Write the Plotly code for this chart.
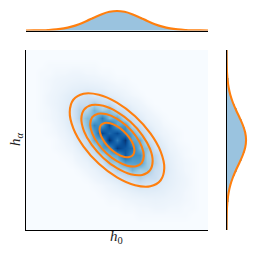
import plotly.graph_objects as go

grid = [-3.6,-3.3,-3.0,-2.7,-2.4,-2.1,-1.8,-1.5,-1.2,-0.9,-0.6,-0.3,0.0,0.3,0.6,0.9,1.2,1.5,1.8,2.1,2.4,2.7,3.0,3.3,3.6]

# density, rows from top (h_alpha high) to bottom
density_top_down = [
 [0]*25,
 [0]*25,
 [0,0,0,1,1,1,1,1,1,1,0,0,0,0,0,0,0,0,0,0,0,0,0,0,0],
 [0,0,1,1,2,2,3,3,2,2,1,1,0,0,0,0,0,0,0,0,0,0,0,0,0],
 [0,0,1,2,3,4,5,6,5,4,3,2,1,1,0,0,0,0,0,0,0,0,0,0,0],
 [0,0,1,2,4,6,9,10,11,10,8,5,3,2,1,0,0,0,0,0,0,0,0,0,0],
 [0,0,1,3,5,9,13,17,23,16,19,11,8,4,2,1,0,0,0,0,0,0,0,0,0],
 [0,0,1,3,6,10,17,27,27,38,26,28,15,10,6,3,1,0,0,0,0,0,0,0,0],
 [0,0,1,2,5,11,20,34,36,56,42,50,28,24,12,6,3,1,0,0,0,0,0,0,0],
 [0,0,1,2,4,10,19,35,52,54,84,54,64,32,27,13,6,3,1,0,0,0,0,0,0],
 [0,0,0,1,3,8,17,27,50,80,70,104,62,72,32,26,12,6,2,1,0,0,0,0,0],
 [0,0,0,1,2,5,12,26,40,66,108,92,106,80,62,36,24,10,4,2,1,0,0,0,0],
 [0,0,0,0,1,3,8,18,28,62,66,118,84,116,64,60,27,18,8,3,1,0,0,0,0],
 [0,0,0,0,1,2,4,11,26,32,68,70,112,100,88,54,48,22,13,5,2,1,0,0,0],
 [0,0,0,0,0,1,2,6,13,24,38,56,64,98,76,74,42,33,16,8,3,1,0,0,0],
 [0,0,0,0,0,0,1,3,6,14,21,44,46,66,66,68,44,35,17,10,4,2,1,0,0],
 [0,0,0,0,0,0,0,1,3,6,13,20,37,38,55,41,45,27,22,11,5,2,1,0,0],
 [0,0,0,0,0,0,0,0,1,3,6,11,16,26,26,36,28,26,16,10,6,3,1,0,0],
 [0,0,0,0,0,0,0,0,0,1,2,4,8,13,16,21,18,18,12,9,5,3,1,0,0],
 [0,0,0,0,0,0,0,0,0,0,1,2,3,5,8,10,11,10,9,6,4,2,1,0,0],
 [0,0,0,0,0,0,0,0,0,0,0,1,1,2,3,4,5,6,5,4,3,2,1,0,0],
 [0,0,0,0,0,0,0,0,0,0,0,0,0,1,1,2,2,3,3,2,2,1,1,0,0],
 [0,0,0,0,0,0,0,0,0,0,0,0,0,0,0,1,1,1,1,1,1,1,0,0,0],
 [0]*25,
 [0]*25,
]

ellipse_unit_x = [1,.924,.707,.383,0,-.383,-.707,-.924,-1,-.924,-.707,-.383,0,.383,.707,.924,1]
ellipse_unit_y = [-.6,-.861,-.990,-.969,-.8,-.509,-.141,.248,.6,.861,.990,.969,.8,.509,.141,-.248,-.6]
ellipse_levels = [0.69,1.06,1.41,1.87]

kde_grid = grid
kde_values = [.0015,.004,.011,.026,.056,.110,.198,.325,.487,.667,.835,.956,1,.956,.835,.667,.487,.325,.198,.110,.056,.026,.011,.004,.0015]

bin_centres = [-3.6,-3.45,-3.3,-3.15,-3.0,-2.85,-2.7,-2.55,-2.4,-2.25,-2.1,-1.95,-1.8,-1.65,-1.5,-1.35,-1.2,-1.05,-.9,-.75,-.6,-.45,-.3,-.15,0,.15,.3,.45,.6,.75,.9,1.05,1.2,1.35,1.5,1.65,1.8,1.95,2.1,2.25,2.4,2.55,2.7,2.85,3.0,3.15,3.3,3.45,3.6]
bin_counts = [.001,.003,.004,.007,.011,.017,.026,.039,.056,.080,.110,.149,.198,.256,.325,.402,.487,.576,.667,.755,.835,.904,.956,.989,1,.989,.956,.904,.835,.755,.667,.576,.487,.402,.325,.256,.198,.149,.110,.080,.056,.039,.026,.017,.011,.007,.004,.003,.001]

BLUES = [[0,'#f7fbff'],[.025,'#eef5fc'],[.125,'#deebf7'],[.25,'#c6dbef'],[.375,'#9ecae1'],[.5,'#6baed6'],[.625,'#4292c6'],[.75,'#2171b5'],[.875,'#08519c'],[1,'#08306b']]
ORANGE = '#ff7f0e'
BAR = '#9ac3df'
S = 257.0
AXR = [-3.6, 3.6]
LW = 2.1

fig = go.Figure()
fig.add_trace(go.Heatmap(x=grid, y=grid, z=density_top_down[::-1], colorscale=BLUES, zmin=0, zmax=118,
                         zsmooth='best', showscale=False, xaxis='x', yaxis='y'))
for lv in ellipse_levels:
    fig.add_trace(go.Scatter(x=[lv*u for u in ellipse_unit_x], y=[lv*u for u in ellipse_unit_y], mode='lines',
                             line=dict(color=ORANGE, width=LW, shape='spline', smoothing=1.0),
                             xaxis='x', yaxis='y'))
fig.add_trace(go.Bar(x=bin_centres, y=bin_counts, width=0.15, marker=dict(color=BAR, line=dict(width=0)), xaxis='x2', yaxis='y2'))
fig.add_trace(go.Scatter(x=kde_grid, y=kde_values, mode='lines', line=dict(color=ORANGE, width=LW, shape='spline'),
                         xaxis='x2', yaxis='y2', cliponaxis=False))
fig.add_trace(go.Bar(y=bin_centres, x=bin_counts, width=0.15, orientation='h', marker=dict(color=BAR, line=dict(width=0)), xaxis='x3', yaxis='y3'))
fig.add_trace(go.Scatter(y=kde_grid, x=kde_values, mode='lines', line=dict(color=ORANGE, width=LW, shape='spline'),
                         xaxis='x3', yaxis='y3', cliponaxis=False))

def hidden(**kw):
    d = dict(showgrid=False, zeroline=False, showticklabels=False, ticks='', showline=False)
    d.update(kw)
    return d
line = dict(showline=True, linecolor='black', linewidth=1)
fig.update_layout(
    width=257, height=257, margin=dict(l=0, r=0, t=0, b=0), showlegend=False,
    paper_bgcolor='white', plot_bgcolor='white', bargap=0,
    xaxis=hidden(domain=[26/S, 208/S], range=AXR, **line),
    yaxis=hidden(domain=[1-230/S, 1-50/S], range=AXR, **line),
    xaxis2=hidden(domain=[26/S, 208/S], range=AXR, anchor='y2', **line),
    yaxis2=hidden(domain=[1-30.5/S, 1-9/S], range=[0, 1.1], anchor='x2'),
    xaxis3=hidden(domain=[226.5/S, 248/S], range=[0, 1.1], anchor='y3'),
    yaxis3=hidden(domain=[1-230/S, 1-50/S], range=AXR, anchor='x3', **line),
    annotations=[
        dict(text='<i>h</i><sub>0</sub>', x=116.5/S, y=1-248/S, xref='paper', yref='paper', showarrow=False,
             font=dict(family='Liberation Serif', size=15, color='#222')),
        dict(text='<i>h</i><sub><i>α</i></sub>', x=5/S, y=1-139/S, xref='paper', yref='paper', showarrow=False,
             textangle=-90, font=dict(family='Liberation Serif', size=15, color='#222')),
    ],
)
for tr in fig.data:
    if isinstance(tr, go.Scatter):
        tr.hoverinfo = 'skip'
fig.write_html("out.html", config=dict(displayModeBar=False), post_script="document.body.style.margin='0';document.body.style.overflow='hidden';")
